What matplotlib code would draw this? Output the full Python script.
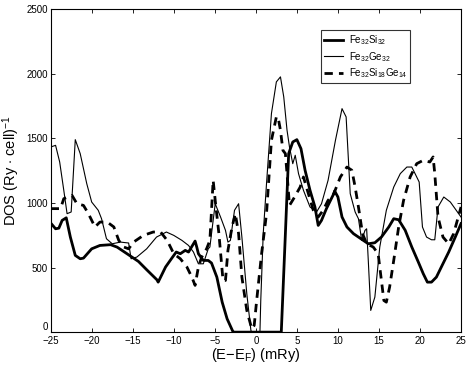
import matplotlib
matplotlib.use("Agg")
import matplotlib.pyplot as plt

plt.rcParams['font.family'] = ['Liberation Sans', 'DejaVu Sans']
plt.rcParams['mathtext.fontset'] = 'custom'
plt.rcParams['mathtext.rm'] = 'Liberation Sans'
plt.rcParams['mathtext.it'] = 'Liberation Sans'

# Fe32Si32 (trait epais)
e_si = [-25, -24.4, -24, -23.6, -23.1, -22.6, -22, -21.4, -21, -20, -19, -17.7, -16.9, -15.7,
        -14.3, -13.3, -12.05, -11.9, -11, -10.2, -9.7, -9.2, -8.6, -8.2, -7.4, -7.2, -7.0,
        -6.4, -5.8, -5.4, -4.75, -4.1, -3.5, -2.8, -2.7, 3.0, 3.1, 3.6, 4.0, 4.5, 5.0, 5.5,
        6.0, 6.6, 7.2, 7.6, 8.0, 8.6, 9.5, 9.6, 10.0, 10.5, 11.1, 11.9, 13.1, 13.7, 14.5,
        15.3, 16.2, 16.8, 17.4, 18.2, 19.0, 19.8, 20.4, 20.9, 21.4, 22.0, 22.6, 23.5, 24.3, 25]
dos_si = [845, 800, 805, 865, 885, 736, 594, 568, 573, 645, 671, 677, 658, 607,
          547, 483, 405, 387, 504, 576, 620, 607, 633, 620, 705, 659, 607,
          555, 555, 535, 426, 232, 103, 5, 0, 0, 0, 762, 1382, 1472, 1490, 1420,
          1253, 1098, 969, 826, 865, 956, 1072, 1093, 1046, 891, 814, 762, 710, 684, 692,
          736, 814, 878, 870, 788, 659, 542, 452, 387, 387, 426, 504, 620, 736, 840]

# Fe32Ge32 (trait fin)
e_ge = [-25, -24.4, -23.9, -23.4, -23, -22.5, -22, -21.4, -20.6, -20, -19.2, -18.8, -18.2,
        -17.5, -16.5, -15.5, -15.2, -14.5, -13.3, -12.1, -10.9, -10.0, -9.0, -8.2, -7.6,
        -7.0, -6.4, -5.8, -5.6, -4.95, -4.3, -3.7, -3.4, -3.1, -2.6, -2.1, -1.7, -1.1, -0.6,
        -0.5, 0.5, 0.6, 0.9, 1.3, 1.9, 2.5, 3.0, 3.4, 3.8, 4.1, 4.5, 4.8, 5.2, 5.8, 6.6,
        7.4, 8.0, 8.8, 9.7, 10.5, 11.0, 11.5, 12.1, 12.5, 12.9, 13.3, 13.5, 13.7, 14.0,
        14.5, 15.1, 15.9, 16.8, 17.6, 18.4, 19.0, 19.4, 19.9, 20.3, 20.8, 21.4, 21.8, 22.2,
        22.9, 23.7, 25]
dos_ge = [1433, 1446, 1317, 1098, 917, 930, 1490, 1382, 1149, 1007, 943, 878, 723,
          684, 697, 690, 568, 581, 645, 736, 775, 749, 710, 671, 620,
          529, 529, 645, 659, 994, 891, 788, 697, 710, 943, 994, 736, 297, 13,
          0, 0, 245, 762, 1149, 1692, 1937, 1976, 1821, 1563, 1433, 1304, 1369, 1227, 1098, 969,
          930, 994, 1175, 1485, 1730, 1666, 1072, 930, 878, 710, 788, 800, 555, 168,
          271, 659, 943, 1123, 1227, 1278, 1278, 1227, 1162, 814, 736, 715, 715, 969,
          1046, 1007, 891]

# Fe32Si18Ge14 (tirets)
e_mix = [-25, -23.8, -23.4, -22.4, -21.8, -21.0, -20.4, -19.6, -19.0, -18.1, -17.3, -16.7,
         -16.1, -15.5, -14.9, -13.7, -12.5, -11.6, -10.8, -10.0, -9.2, -8.4, -7.8, -7.4,
         -7.0, -6.6, -6.0, -5.6, -5.2, -4.95, -4.5, -4.0, -3.7, -3.4, -2.9, -2.5, -2.1,
         -1.7, -1.1, -0.5, -0.2, 0.1, 0.7, 1.3, 1.9, 2.5, 2.7, 3.0, 3.3, 3.6, 3.8, 4.1,
         4.6, 5.4, 5.8, 6.4, 7.0, 7.6, 8.2, 8.8, 9.5, 10.3, 11.1, 11.7, 12.1, 12.5, 13.0,
         13.5, 14.3, 14.9, 15.3, 15.6, 15.9, 16.3, 16.8, 17.4, 18.0, 18.8, 19.6, 20.4,
         21.2, 21.6, 21.8, 22.2, 22.8, 23.5, 24.1, 25]
dos_mix = [956, 956, 1033, 1059, 994, 981, 917, 814, 852, 852, 814, 710,
           659, 645, 697, 749, 775, 775, 710, 607, 568, 504, 426, 362,
           504, 581, 645, 710, 1175, 1020, 762, 400, 400, 633, 814, 917, 762,
           426, 168, 26, 52, 245, 607, 917, 1485, 1666, 1666, 1563, 1407, 1382, 1227, 981,
           1033, 1123, 1201, 1072, 943, 891, 943, 1020, 1072, 1201, 1278, 1253, 1123, 969, 762,
           684, 659, 607, 400, 245, 232, 349, 555, 814, 1020, 1201, 1304, 1330,
           1317, 1356, 1227, 891, 736, 684, 762, 969]

fig = plt.figure(figsize=(4.69, 3.67), dpi=100)
ax = fig.add_axes([0.108, 0.095, 0.875, 0.88])

ax.plot(e_si, dos_si, color='black', linewidth=2.0, label=r'Fe$_{32}$Si$_{32}$')
ax.plot(e_ge, dos_ge, color='black', linewidth=0.8, label=r'Fe$_{32}$Ge$_{32}$')
ax.plot(e_mix, dos_mix, color='black', linewidth=2.0, linestyle=(0, (3, 2.2)),
        label=r'Fe$_{32}$Si$_{18}$Ge$_{14}$')

ax.set_xlim(-25, 25)
ax.set_ylim(0, 2500)
ax.set_xticks(range(-25, 26, 5))
ax.set_yticks(range(0, 2501, 500))
ax.tick_params(direction='in', top=True, right=True, labelsize=7, length=3, width=0.6, pad=2)
ax.tick_params(axis='x', pad=3)
# le "0" remonte un peu pour ne pas toucher le "-25"
ax.get_yticklabels()[0].set_verticalalignment('bottom')
for s in ax.spines.values():
    s.set_linewidth(0.8)

ax.set_xlabel(r'(E$-$E$_F$) (mRy)', fontsize=10.5, labelpad=0)
ax.set_ylabel(r'DOS (Ry $\cdot$ cell)$^{-1}$', fontsize=10.5, labelpad=3)

leg = ax.legend(loc='upper left', bbox_to_anchor=(0.658, 0.935), fontsize=7,
                frameon=True, fancybox=False, handlelength=2.0, borderpad=0.3,
                labelspacing=0.3, handletextpad=0.6, borderaxespad=0)
leg.get_frame().set_edgecolor('black')
leg.get_frame().set_linewidth(0.8)

fig.savefig('out.png', dpi=100)
